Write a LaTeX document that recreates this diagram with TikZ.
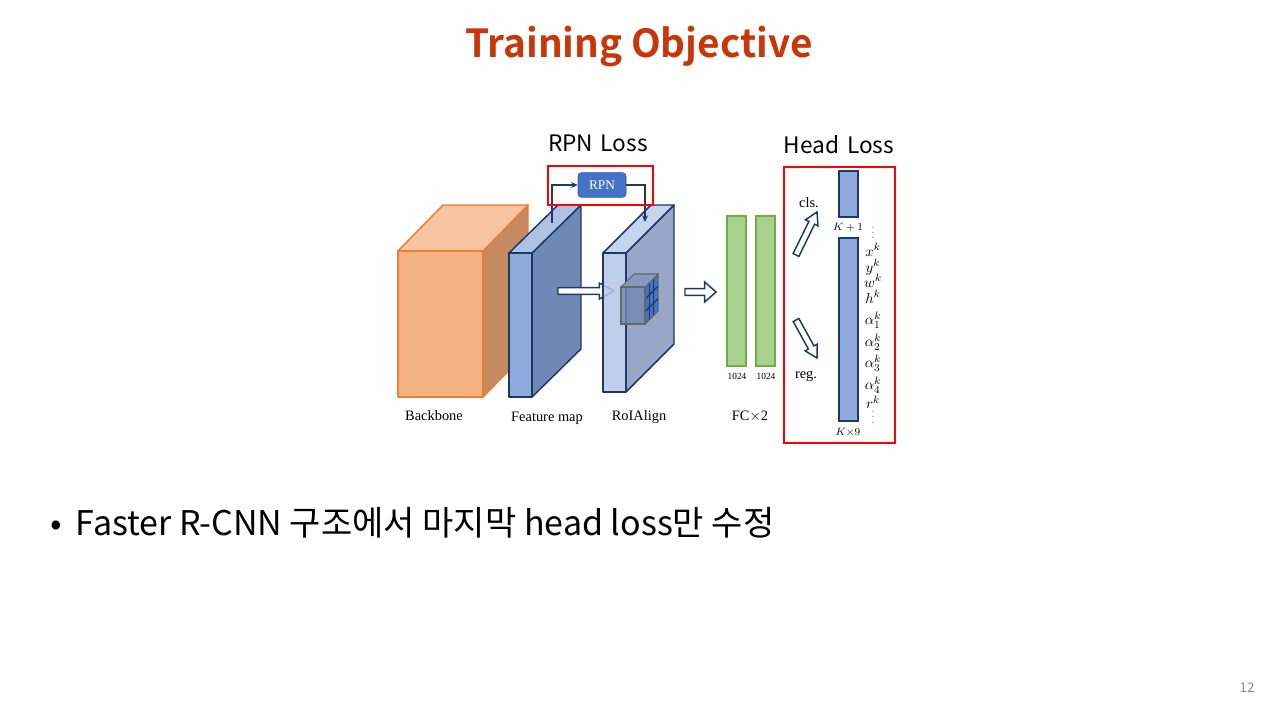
\documentclass[tikz,border=0pt]{standalone}
\usepackage{fontspec}
\setmainfont{Liberation Serif}
\newfontfamily\kr{Noto Sans CJK KR}[BoldFont={Noto Sans CJK KR Bold}]
\usetikzlibrary{calc,arrows.meta}

\definecolor{titlered}{HTML}{C8370A}
\definecolor{boxred}{HTML}{FF0000}
\definecolor{navy}{HTML}{1F3864}
\definecolor{bbfront}{HTML}{F4B183}
\definecolor{bbtop}{HTML}{F8C4A2}
\definecolor{bbside}{HTML}{C58A62}
\definecolor{bbline}{HTML}{ED7D31}
\definecolor{fmfront}{HTML}{8FAADC}
\definecolor{fmtop}{HTML}{AFC2E6}
\definecolor{fmside}{HTML}{7088B4}
\definecolor{rafront}{HTML}{B4C7E7}
\definecolor{ratop}{HTML}{C8D5EE}
\definecolor{raside}{HTML}{98A7C7}
\definecolor{rpnblue}{HTML}{4472C4}
\definecolor{rpnline}{HTML}{2F5597}
\definecolor{fcfill}{HTML}{A9D18E}
\definecolor{fcline}{HTML}{70AD47}
\definecolor{pagegray}{HTML}{8C8C8C}

% hollow block arrow: tail, tip, shaft half width, head half width, head length
\newcommand\blockarrow[5]{%
  \coordinate (ba-a) at #1;
  \coordinate (ba-b) at #2;
  \coordinate (ba-m) at ($(ba-b)!#5!(ba-a)$);
  \draw[hollowarrow]
    ($(ba-a)!#3!90:(ba-b)$) -- ($(ba-m)!#3!90:(ba-b)$) --
    ($(ba-m)!#4!90:(ba-b)$) -- (ba-b) --
    ($(ba-m)!#4!-90:(ba-b)$) -- ($(ba-m)!#3!-90:(ba-b)$) --
    ($(ba-a)!#3!-90:(ba-b)$) -- cycle;
}
\newcommand\bluedots{\textcolor{rpnline}{\scriptsize$\vdots$}}

\begin{document}
\begin{tikzpicture}[x=0.75pt,y=-0.75pt,
  hollowarrow/.style={draw=navy, fill=white, line width=1.1pt, line join=miter},
  cube/.style={line width=1.1pt, line join=round},
  redbox/.style={draw=boxred, line width=2.2pt},
  serif/.style={font=\fontsize{10.8}{12}\selectfont},
  tiny/.style={font=\fontsize{7}{8}\selectfont},
  losslabel/.style={font=\kr\fontsize{17}{20}\selectfont},
  wire/.style={draw=navy, line width=1pt},
  coefcol/.style={font=\fontsize{11}{12}\selectfont, align=center, inner sep=0pt},
]
\useasboundingbox (0,0) rectangle (1280,720);
% keep a fixed baseline distance in the stacked target column
\lineskiplimit=-30pt\relax

% title
\node[font=\kr\bfseries\fontsize{29}{34}\selectfont, text=titlered] (title) at (639,47) {Training Objective};

% backbone block
\filldraw[cube, draw=bbline, fill=bbside] (483,251) -- (528,205) -- (528,351) -- (483,397) -- cycle;
\filldraw[cube, draw=bbline, fill=bbtop] (398,251) -- (443,205) -- (528,205) -- (483,251) -- cycle;
\filldraw[cube, draw=bbline, fill=bbfront] (398,251) rectangle (483,397);

% feature map slab
\filldraw[cube, draw=navy, fill=fmside] (532,253) -- (581,205) -- (581,349) -- (532,397) -- cycle;
\filldraw[cube, draw=navy, fill=fmtop] (509,253) -- (558,205) -- (581,205) -- (532,253) -- cycle;
\filldraw[cube, draw=navy, fill=fmfront] (509,253) rectangle (532,397);

% RoIAlign slab
\filldraw[cube, draw=navy, fill=raside] (626,253) -- (674,205) -- (674,344) -- (626,392) -- cycle;
\filldraw[cube, draw=navy, fill=ratop] (603,253) -- (651,205) -- (674,205) -- (626,253) -- cycle;

% feature map -> RoIAlign
\blockarrow{(558,291)}{(614,291)}{2.6pt}{6pt}{11pt}
\filldraw[cube, draw=navy, fill=rafront, fill opacity=0.85] (603,253) rectangle (626,392);

% pooled RoI cube
\filldraw[draw=black!60, line width=0.8pt, fill=rpnblue] (645,287) -- (658,274) -- (658,311) -- (645,324) -- cycle;
\foreach \t in {0.333,0.667} {
  \draw[navy, line width=0.9pt] ($(645,287)!\t!(645,324)$) -- ($(658,274)!\t!(658,311)$);
  \draw[navy, line width=0.9pt] ($(645,287)!\t!(658,274)$) -- ($(645,324)!\t!(658,311)$);
}
\filldraw[draw=black!60, line width=0.8pt, fill=fmside!85!white] (621,287) -- (634,274) -- (658,274) -- (645,287) -- cycle;
\filldraw[draw=black!60, line width=0.8pt, fill=fmside, fill opacity=0.8] (621,287) rectangle (645,324);

% RPN branch
\node[draw=rpnline, fill=rpnblue, rounded corners=2.5pt, minimum width=36pt, minimum height=18.5pt,
      text=white, font=\fontsize{10}{11}\selectfont] (rpn) at (602,185) {RPN};
\coordinate (rpnin) at (552,223);
\coordinate (rpnout) at (645,222);
\draw[wire, -{Stealth[length=5pt,width=4.5pt]}] (rpnin) |- (rpn.west);
\draw[wire, -{Stealth[length=5pt,width=4.5pt]}] (rpn.east) -| (rpnout);
\draw[redbox] (548,166) rectangle (653,205);
\node[losslabel] (rpnloss) at (598,143) {RPN\,\,Loss};

% RoIAlign -> FC
\blockarrow{(685,292)}{(716,292)}{2.6pt}{7.5pt}{8.5pt}

% fully connected layers
\filldraw[draw=fcline, fill=fcfill, line width=1.2pt] (727,216) rectangle (746,366);
\filldraw[draw=fcline, fill=fcfill, line width=1.2pt] (756,216) rectangle (775,366);
\node[tiny] (fc1) at (737,376) {1024};
\node[tiny] (fc2) at (766,376) {1024};

% block labels
\node[serif] (lbb) at (434,416) {Backbone};
\node[serif] (lfm) at (547,418) {Feature map};
\node[serif] (lra) at (639,417) {RoIAlign};
\node[serif] (lfc) at (750,416) {FC$\times$2};

% head outputs
\draw[redbox] (784,167) rectangle (895,443);
\node[losslabel] (headloss) at (839,145) {Head\,\,Loss};
\filldraw[draw=navy, fill=fmfront, line width=1.1pt] (839,171) rectangle (858,217);
\filldraw[draw=navy, fill=fmfront, line width=1.1pt] (839,238) rectangle (858,421);
\node[font=\fontsize{8}{9}\selectfont, inner sep=0pt] (kone) at (848,227) {$K+1$};
\node[font=\fontsize{8}{9}\selectfont, inner sep=0pt] (knine) at (848,432) {$K{\times}9$};
\node[serif] (cls) at (809,203) {cls.};
\node[serif] (reg) at (806,376) {reg.};
\blockarrow{(796,255)}{(817,212)}{2.4pt}{5.2pt}{9pt}
\blockarrow{(796,320)}{(817,358)}{2.4pt}{5.2pt}{9pt}

% regression targets, one column
\node[coefcol, anchor=north] (targets) at (873,219) {%
  \bluedots\\[0.9pt]
  $x^k$\\
  $y^k$\\[-0.8pt]
  $w^k$\\
  $h^k$\\[4.4pt]
  $\alpha_1^k$\\[4.4pt]
  $\alpha_2^k$\\[3.8pt]
  $\alpha_3^k$\\[4.4pt]
  $\alpha_4^k$\\[2.2pt]
  $r^k$\\[-1pt]
  \bluedots};

% bullet text
\node[font=\kr\fontsize{25.5}{30}\selectfont, anchor=west] (bullet) at (46,523) {•\, Faster R-CNN 구조에서 마지막 head loss만 수정};

% page number
\node[font=\kr\fontsize{10}{12}\selectfont, text=pagegray] (page) at (1247,688) {12};
\end{tikzpicture}
\end{document}
